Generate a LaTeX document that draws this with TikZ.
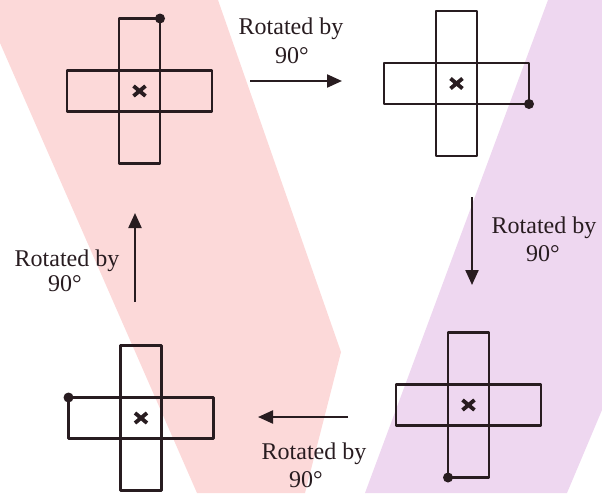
\documentclass[tikz,border=0pt]{standalone}
\usepackage{fontspec}
\setmainfont{Liberation Serif}
\usetikzlibrary{arrows.meta}
\definecolor{bandpink}{RGB}{252,217,217}
\definecolor{bandpurple}{RGB}{238,215,240}
\definecolor{ink}{RGB}{40,28,32}
\tikzset{
  crossline/.style={draw=ink, line width=2.4pt, line join=round},
  xmark/.style={draw=ink, line width=3.8pt},
  corner/.style={fill=ink},
  lbl/.style={anchor=base, inner sep=0pt, text=ink, font=\fontsize{24}{29}\selectfont},
  turn/.style={draw=ink, line width=2.2pt, -{Triangle[length=15pt,width=13pt]}},
  plus/.pic={
    \draw[crossline] (-20.5,-72.5) rectangle (20.5,72.5);
    \draw[crossline] (-72.5,-20.5) rectangle (72.5,20.5);
    \draw[xmark] (-6,-5) -- (6,5) (-6,5) -- (6,-5);
  }
}
\begin{document}
\begin{tikzpicture}[x=1pt,y=-1pt]
\useasboundingbox (0,0) rectangle (602,493);
% background bands
\fill[bandpink] (0,0) -- (218,0) -- (341,352) -- (305,493) -- (197,493) -- (0,43) -- cycle;
\fill[bandpurple] (548,0) -- (602,0) -- (602,410) -- (567,493) -- (365,493) -- cycle;
% crosses
\pic at (139.5,91) {plus};
\pic at (456.5,83.5) {plus};
\pic at (141,418) {plus};
\pic at (468.5,405) {plus};
% corner dots
\fill[corner] (160,18.5) circle (5);
\fill[corner] (529,104) circle (5);
\fill[corner] (68.5,397.5) circle (5);
\fill[corner] (448,477.5) circle (5);
% arrow end points
\coordinate (ta) at (250,81);
\coordinate (tb) at (342,81);
\coordinate (ra) at (472,197);
\coordinate (rb) at (472,285);
\coordinate (ba) at (348,417);
\coordinate (bb) at (258,417);
\coordinate (la) at (135,302);
\coordinate (lb) at (135,213);
\draw[turn] (ta) -- (tb);
\draw[turn] (ra) -- (rb);
\draw[turn] (ba) -- (bb);
\draw[turn] (la) -- (lb);
% labels
\node[lbl] (t1) at (291,34) {Rotated by};
\node[lbl] (t2) at (292,63) {90°};
\node[lbl] (r1) at (544,233) {Rotated by};
\node[lbl] (r2) at (543,261) {90°};
\node[lbl] (b1) at (314,459) {Rotated by};
\node[lbl] (b2) at (306,487) {90°};
\node[lbl] (l1) at (67,266) {Rotated by};
\node[lbl] (l2) at (65,291) {90°};
\end{tikzpicture}
\end{document}
